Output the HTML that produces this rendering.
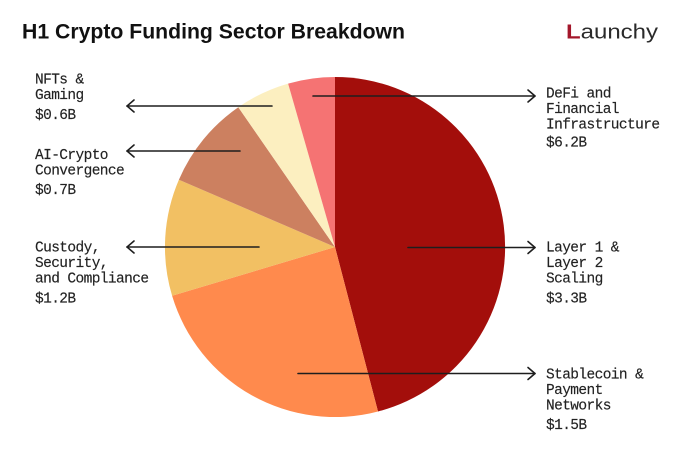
<!DOCTYPE html>
<html>
<head>
<meta charset="utf-8">
<style>
  html,body{margin:0;padding:0;background:#fff;}
  body{width:680px;height:474px;overflow:hidden;}
  svg{display:block;}
  .lbl{font-family:"Liberation Mono","DejaVu Sans Mono",monospace;font-size:14.5px;letter-spacing:-0.6px;fill:#222;stroke:#222;stroke-width:0.15;}
</style>
</head>
<body>
<svg width="680" height="474" viewBox="0 0 680 474" xmlns="http://www.w3.org/2000/svg">
  <rect width="680" height="474" fill="#ffffff"/>
  <!-- Title -->
  <text x="22" y="38.5" font-family="Liberation Sans, Arial, sans-serif" font-weight="bold" font-size="21" fill="#111" textLength="383" lengthAdjust="spacingAndGlyphs">H1 Crypto Funding Sector Breakdown</text>
  <!-- Logo -->
  <text x="566" y="38.5" font-family="Liberation Sans, Arial, sans-serif" font-size="20" fill="#2a2a2a" textLength="92" lengthAdjust="spacingAndGlyphs"><tspan fill="#A3162A" font-weight="bold">L</tspan>aunchy</text>

  <!-- Pie -->
  <g stroke="none">
    <path d="M335,247 L335,77 A170,170 0 0 1 378.0,411.5 Z" fill="#A30E0B"/>
    <path d="M335,247 L378.0,411.5 A170,170 0 0 1 172.1,295.8 Z" fill="#FF8A4D"/>
    <path d="M335,247 L172.1,295.8 A170,170 0 0 1 178.9,179.7 Z" fill="#F2C063"/>
    <path d="M335,247 L178.9,179.7 A170,170 0 0 1 238.3,107.2 Z" fill="#CC8060"/>
    <path d="M335,247 L238.3,107.2 A170,170 0 0 1 288.1,83.6 Z" fill="#FCEFC0"/>
    <path d="M335,247 L288.1,83.6 A170,170 0 0 1 335,77 Z" fill="#F57373"/>
  </g>

  <!-- Arrows -->
  <g stroke="#1e1e1e" stroke-width="1.6" fill="none" stroke-linecap="round" stroke-linejoin="round">
    <line x1="272" y1="106" x2="127" y2="106"/>
    <polyline points="134,100 127,106 134,112"/>
    <line x1="240" y1="151" x2="127" y2="151"/>
    <polyline points="134,145 127,151 134,157"/>
    <line x1="259" y1="247" x2="127" y2="247"/>
    <polyline points="134,241 127,247 134,253"/>
    <line x1="313" y1="96" x2="535" y2="96"/>
    <polyline points="528,90 535,96 528,102"/>
    <line x1="408" y1="247.5" x2="535" y2="247.5"/>
    <polyline points="528,241.5 535,247.5 528,253.5"/>
    <line x1="298" y1="373.5" x2="535" y2="373.5"/>
    <polyline points="528,367.5 535,373.5 528,379.5"/>
  </g>

  <!-- Left labels -->
  <text class="lbl" x="35" y="83.5">NFTs &amp;</text>
  <text class="lbl" x="35" y="99">Gaming</text>
  <text class="lbl" x="35" y="119">$0.6B</text>

  <text class="lbl" x="35" y="159">AI-Crypto</text>
  <text class="lbl" x="35" y="174.5">Convergence</text>
  <text class="lbl" x="35" y="194">$0.7B</text>

  <text class="lbl" x="35" y="251.7">Custody,</text>
  <text class="lbl" x="35" y="267.2">Security,</text>
  <text class="lbl" x="35" y="282.7">and Compliance</text>
  <text class="lbl" x="35" y="302.7">$1.2B</text>

  <!-- Right labels -->
  <text class="lbl" x="546" y="97.3">DeFi and</text>
  <text class="lbl" x="546" y="112.8">Financial</text>
  <text class="lbl" x="546" y="128.3">Infrastructure</text>
  <text class="lbl" x="546" y="146.5">$6.2B</text>

  <text class="lbl" x="546" y="251.7">Layer 1 &amp;</text>
  <text class="lbl" x="546" y="267.2">Layer 2</text>
  <text class="lbl" x="546" y="282.7">Scaling</text>
  <text class="lbl" x="546" y="302.7">$3.3B</text>

  <text class="lbl" x="546" y="378.3">Stablecoin &amp;</text>
  <text class="lbl" x="546" y="393.8">Payment</text>
  <text class="lbl" x="546" y="409.3">Networks</text>
  <text class="lbl" x="546" y="429">$1.5B</text>
</svg>
</body>
</html>
